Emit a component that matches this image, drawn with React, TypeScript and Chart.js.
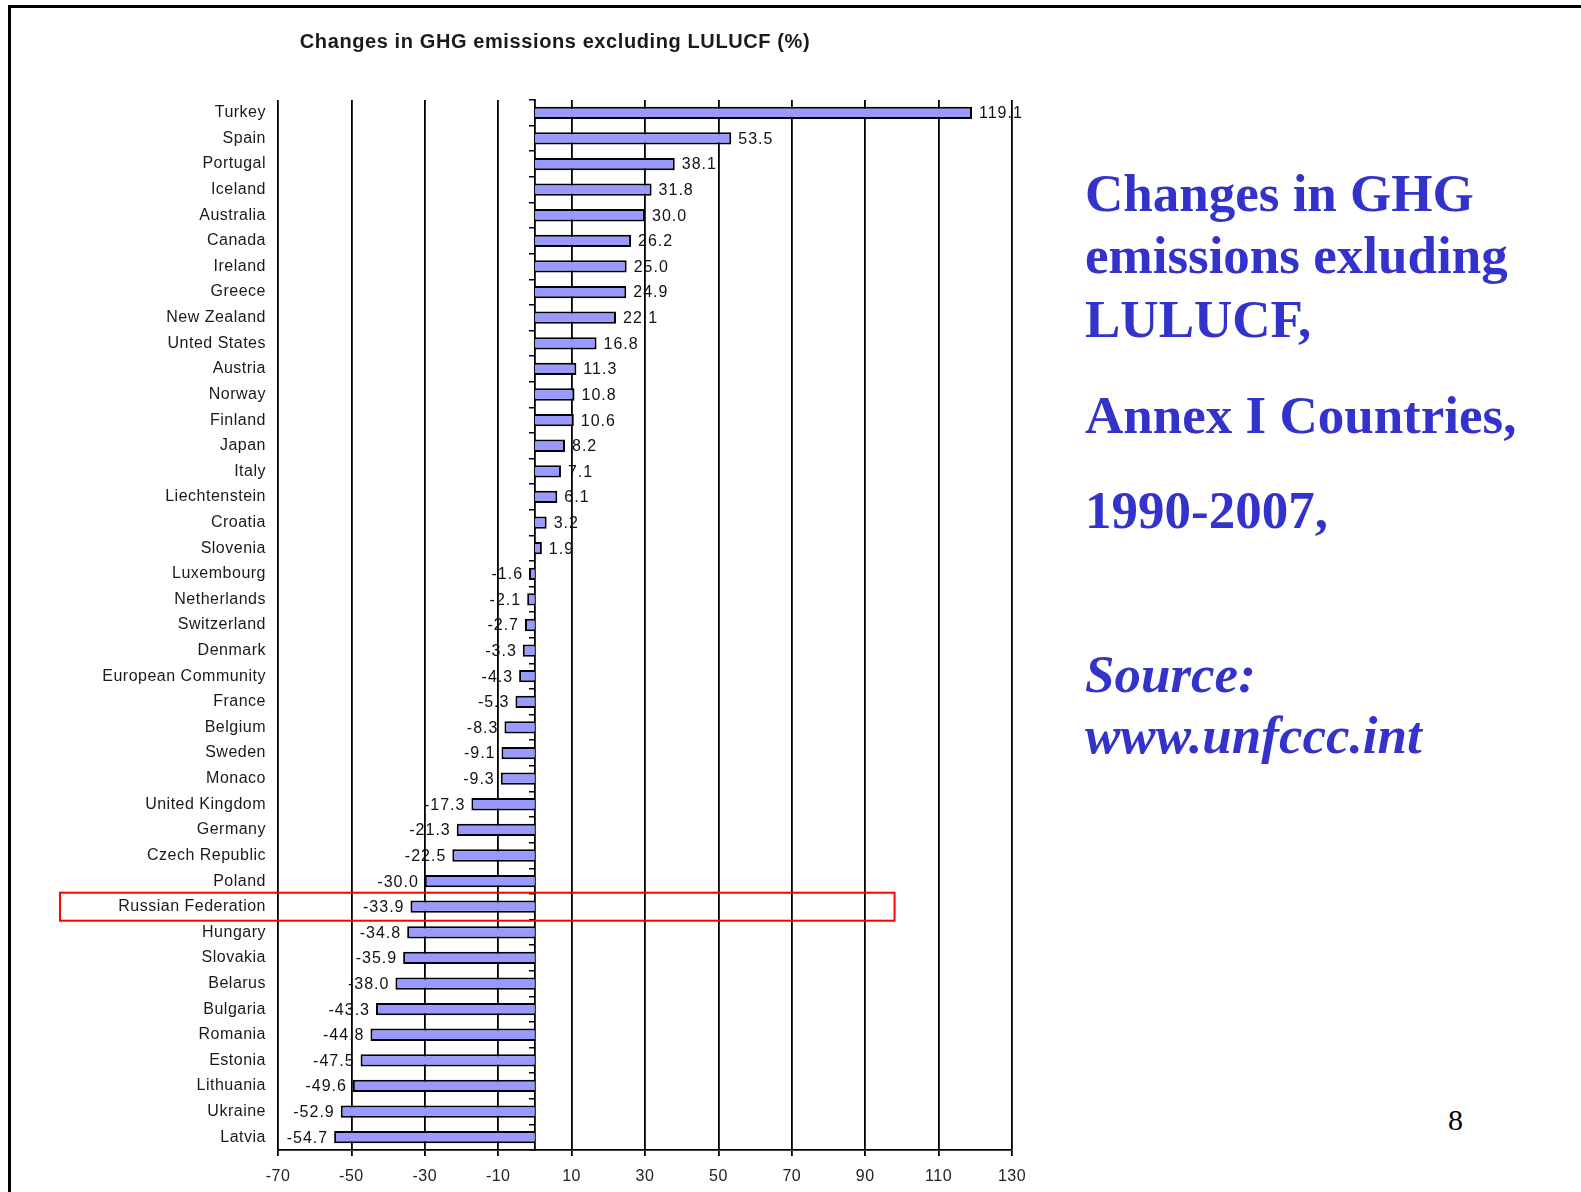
import React, { useEffect, useRef } from "react";
import { Chart, registerables } from "chart.js";

Chart.register(...registerables);

// ---- data ----
const countries = [
  "Turkey", "Spain", "Portugal", "Iceland", "Australia", "Canada", "Ireland", "Greece",
  "New Zealand", "Unted States", "Austria", "Norway", "Finland", "Japan", "Italy",
  "Liechtenstein", "Croatia", "Slovenia", "Luxembourg", "Netherlands", "Switzerland",
  "Denmark", "European Community", "France", "Belgium", "Sweden", "Monaco",
  "United Kingdom", "Germany", "Czech Republic", "Poland", "Russian Federation",
  "Hungary", "Slovakia", "Belarus", "Bulgaria", "Romania", "Estonia", "Lithuania",
  "Ukraine", "Latvia",
];
const changes = [
  119.1, 53.5, 38.1, 31.8, 30.0, 26.2, 25.0, 24.9,
  22.1, 16.8, 11.3, 10.8, 10.6, 8.2, 7.1,
  6.1, 3.2, 1.9, -1.6, -2.1, -2.7,
  -3.3, -4.3, -5.3, -8.3, -9.1, -9.3,
  -17.3, -21.3, -22.5, -30.0, -33.9,
  -34.8, -35.9, -38.0, -43.3, -44.8, -47.5, -49.6,
  -52.9, -54.7,
];
const X_MIN = -70;
const X_MAX = 130;
const X_STEP = 20;
const HIGHLIGHT = "Russian Federation";
const HIGHLIGHT_EXTENT = 98;

const chartTitle = "Changes in GHG emissions excluding LULUCF (%)";
const headingLines = ["Changes in GHG", "emissions exluding", "LULUCF,"];
const annexLine = "Annex I Countries,";
const periodLine = "1990-2007,";
const sourceLines = ["Source:", "www.unfccc.int"];
const pageNumber = "8";

const SANS = "'Liberation Sans', Arial, Helvetica, sans-serif";
const SERIF = "'Liberation Serif', 'Times New Roman', Times, serif";
const BLUE = "#3333CC";

const spacingPlugin = {
  id: "spacing",
  beforeDraw(chart: any) {
    chart.ctx.letterSpacing = "0.5px";
  },
  afterDraw(chart: any) {
    chart.ctx.letterSpacing = "0px";
  },
};

const valueLabelPlugin = {
  id: "valueLabels",
  afterDatasetsDraw(chart: any) {
    const ctx = chart.ctx;
    const meta = chart.getDatasetMeta(0);
    ctx.save();
    ctx.font = `16px ${SANS}`;
    ctx.fillStyle = "#111";
    ctx.letterSpacing = "1px";
    ctx.textBaseline = "middle";
    meta.data.forEach((bar: any, i: number) => {
      const v = changes[i];
      const { x, y } = bar.getProps(["x", "y"], true);
      if (v >= 0) {
        ctx.textAlign = "left";
        ctx.fillText(v.toFixed(1), x + 7, y + 1);
      } else {
        ctx.textAlign = "right";
        ctx.fillText(v.toFixed(1), x - 6, y + 1);
      }
    });
    ctx.restore();
  },
};

const highlightPlugin = {
  id: "highlight",
  afterDraw(chart: any) {
    const { ctx, chartArea, scales } = chart;
    const idx = countries.indexOf(HIGHLIGHT);
    if (idx < 0) return;
    const cy = scales.y.getPixelForValue(idx);
    const half = 14;
    const left = chartArea.left - 218;
    const right = scales.x.getPixelForValue(HIGHLIGHT_EXTENT);
    ctx.save();
    ctx.strokeStyle = "#FF0000";
    ctx.lineWidth = 2;
    ctx.strokeRect(left, cy - half, right - left, half * 2);
    ctx.restore();
  },
};

function GhgChart() {
  const ref = useRef<HTMLCanvasElement | null>(null);
  useEffect(() => {
    if (!ref.current) return;
    const chart = new Chart(ref.current, {
      type: "bar",
      data: {
        labels: countries,
        datasets: [
          {
            data: changes,
            backgroundColor: "#9999FF",
            borderColor: "#000000",
            borderWidth: 2,
            barPercentage: 0.48,
            categoryPercentage: 1,
          },
        ],
      },
      options: {
        indexAxis: "y",
        animation: false,
        responsive: false,
        maintainAspectRatio: false,
        layout: { padding: { top: 100, left: 0, right: 58, bottom: 0 } },
        plugins: {
          legend: { display: false },
          tooltip: { enabled: false },
          title: { display: false },
        },
        scales: {
          x: {
            type: "linear",
            min: X_MIN,
            max: X_MAX,
            ticks: {
              stepSize: X_STEP,
              font: { family: SANS, size: 16 },
              color: "#222",
              padding: 11,
              maxRotation: 0,
            },
            grid: { color: "#000", lineWidth: 1.8, tickLength: 6 },
            border: { display: true, color: "#000", width: 1.8 },
            afterFit(scale: any) {
              scale.height = 42;
            },
          },
          y: {
            type: "category",
            grid: { display: false, drawTicks: false },
            border: { display: false },
            ticks: {
              font: { family: SANS, size: 16 },
              color: "#1a1a1a",
              padding: 12,
              autoSkip: false,
            },
            afterFit(scale: any) {
              scale.width = 278;
            },
          },
          y2: {
            type: "category",
            axis: "y",
            labels: countries,
            position: { x: 0 },
            offset: true,
            grid: {
              drawOnChartArea: false,
              drawTicks: true,
              tickLength: 5,
              color: "#000",
              lineWidth: 1.5,
              offset: true,
            },
            border: { display: true, color: "#000", width: 1.8 },
            ticks: { display: false, autoSkip: false },
          },
        },
      } as any,
      plugins: [spacingPlugin, valueLabelPlugin, highlightPlugin],
    });
    return () => chart.destroy();
  }, []);
  return (
    <canvas
      ref={ref}
      width={1070}
      height={1192}
      style={{ position: "absolute", left: 0, top: 0, width: 1070, height: 1192 }}
    />
  );
}

function SerifLine({ text, baseline, italic }: { text: string; baseline: number; italic?: boolean }) {
  const size = 53;
  return (
    <div
      style={{
        position: "absolute",
        left: 1085,
        top: baseline - 0.8375 * size,
        fontFamily: SERIF,
        fontWeight: "bold",
        fontStyle: italic ? "italic" : "normal",
        fontSize: size,
        lineHeight: 1,
        color: BLUE,
        whiteSpace: "nowrap",
      }}
    >
      {text}
    </div>
  );
}

export default function App() {
  const headingBaselines = [211, 273, 337];
  const sourceBaselines = [692, 753];
  return (
    <div
      style={{
        position: "absolute",
        left: 0,
        top: 0,
        width: 1581,
        height: 1192,
        overflow: "hidden",
        background: "#fff",
      }}
    >
      <div style={{ position: "absolute", left: 8, top: 5, width: 1573, height: 3, background: "#000" }} />
      <div style={{ position: "absolute", left: 8, top: 5, width: 3, height: 1187, background: "#000" }} />
      <GhgChart />
      <div
        style={{
          position: "absolute",
          left: 0,
          width: 1110,
          top: 48 - 0.8465 * 20,
          textAlign: "center",
          fontFamily: SANS,
          fontWeight: "bold",
          fontSize: 20,
          lineHeight: 1,
          letterSpacing: "0.6px",
          color: "#1a1a1a",
          whiteSpace: "nowrap",
        }}
      >
        {chartTitle}
      </div>
      {headingLines.map((t, i) => (
        <SerifLine key={t} text={t} baseline={headingBaselines[i]} />
      ))}
      <SerifLine text={annexLine} baseline={433} />
      <SerifLine text={periodLine} baseline={528} />
      {sourceLines.map((t, i) => (
        <SerifLine key={t} text={t} baseline={sourceBaselines[i]} italic />
      ))}
      <div
        style={{
          position: "absolute",
          left: 1448,
          top: 1130 - 0.8375 * 30,
          fontFamily: SERIF,
          fontSize: 30,
          lineHeight: 1,
          color: "#000",
        }}
      >
        {pageNumber}
      </div>
    </div>
  );
}
